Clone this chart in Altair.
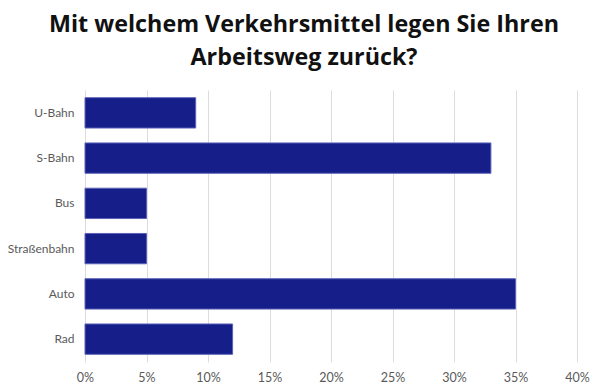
import altair as alt
import pandas as pd

categories = ["U-Bahn", "S-Bahn", "Bus", "Straßenbahn", "Auto", "Rad"]
values = [9, 33, 5, 5, 35, 12]
tick_values = [0, 5, 10, 15, 20, 25, 30, 35, 40]

df = pd.DataFrame({"Verkehrsmittel": categories, "Anteil": values})

chart = alt.Chart(df).mark_bar(
    color="#161e8a", stroke="#5a62b8", strokeWidth=1
).encode(
    y=alt.Y("Verkehrsmittel:N", sort=categories, title=None,
            scale=alt.Scale(paddingInner=0.33, paddingOuter=0.17),
            axis=alt.Axis(domain=False, ticks=False, grid=False, labelPadding=11,
                          labelFont="Lato", labelFontSize=12, labelColor="#5a5a5a")),
    x=alt.X("Anteil:Q", title=None,
            scale=alt.Scale(domain=[0, 40], nice=False),
            axis=alt.Axis(values=tick_values, labelExpr="datum.value + '%'",
                          domain=False, ticks=False, grid=True, gridColor="#dcdcdc",
                          labelFlush=False, labelPadding=9, labelFont="Lato",
                          labelFontSize=12.5, labelColor="#5a5a5a"))
).properties(
    width=492,
    height=272,
    title=alt.TitleParams(
        text=["Mit welchem Verkehrsmittel legen Sie Ihren", "Arbeitsweg zurück?"],
        font="Open Sans", fontSize=23.3, fontWeight="bold", color="#111111",
        anchor="middle", dx=-27, offset=20, lineHeight=33
    ),
    autosize=alt.AutoSizeParams(type="none"),
    padding={"left": 77, "top": 82, "right": 15, "bottom": 28}
).configure_view(stroke=None)

chart.save("out.html", embed_options={"renderer": "svg", "actions": False})
